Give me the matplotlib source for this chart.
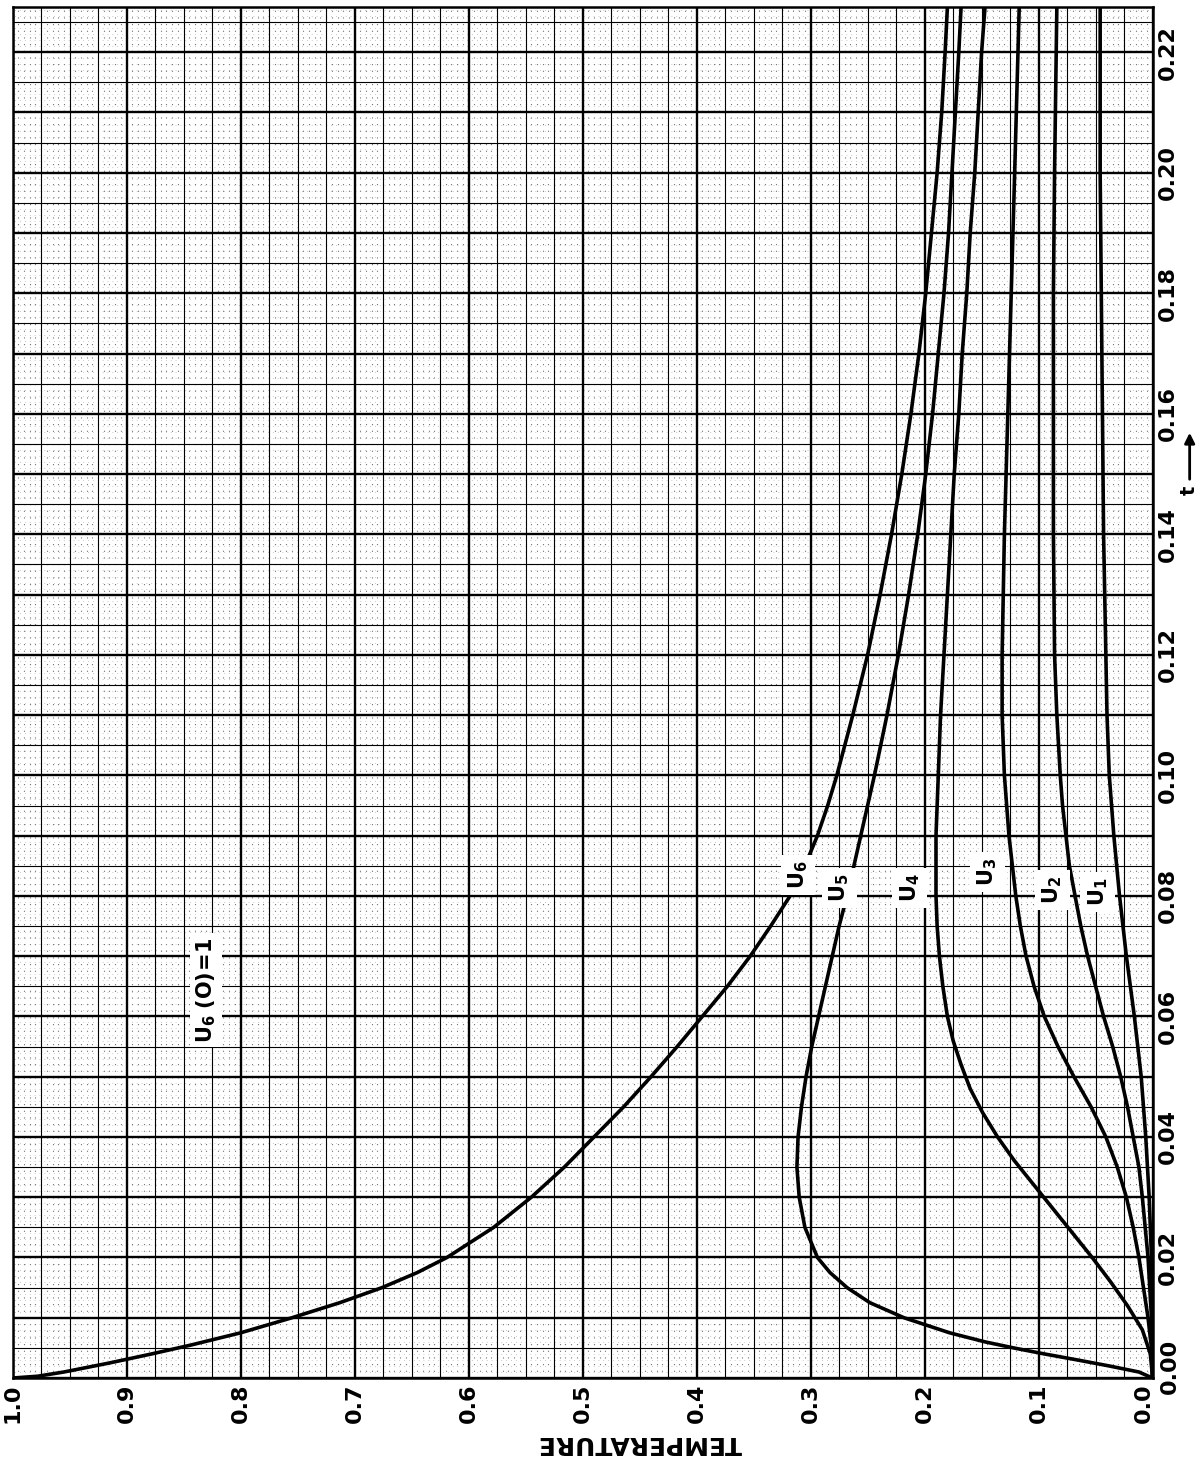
import numpy as np
import matplotlib
matplotlib.use("Agg")
import matplotlib.pyplot as plt
from matplotlib.transforms import ScaledTranslation

# time axis (t) and temperature readings for each node
t_u6 = [0, 0.0003, 0.001, 0.0025, 0.004, 0.0055, 0.0075, 0.010, 0.0125, 0.015, 0.0175, 0.020,
        0.025, 0.030, 0.035, 0.040, 0.045, 0.050, 0.055, 0.060, 0.065, 0.070, 0.075, 0.080,
        0.085, 0.090, 0.095, 0.100, 0.110, 0.120, 0.130, 0.140, 0.150, 0.160, 0.170, 0.180,
        0.190, 0.200, 0.210, 0.220, 0.2275]
u6 = [1.0, 0.978, 0.955, 0.915, 0.878, 0.843, 0.800, 0.755, 0.713, 0.676, 0.645, 0.619,
      0.578, 0.545, 0.516, 0.490, 0.464, 0.440, 0.417, 0.395, 0.373, 0.353, 0.335, 0.318,
      0.305, 0.294, 0.285, 0.277, 0.263, 0.250, 0.239, 0.229, 0.220, 0.212, 0.205, 0.199,
      0.194, 0.189, 0.185, 0.182, 0.180]

t_u5 = [0, 0.001, 0.002, 0.003, 0.004, 0.005, 0.006, 0.0075, 0.010, 0.0125, 0.015, 0.0175,
        0.020, 0.025, 0.030, 0.035, 0.040, 0.045, 0.050, 0.055, 0.060, 0.065, 0.070, 0.075,
        0.080, 0.085, 0.090, 0.095, 0.100, 0.110, 0.120, 0.130, 0.140, 0.150, 0.160, 0.170,
        0.180, 0.190, 0.200, 0.210, 0.220, 0.2275]
u5 = [0, 0.012, 0.038, 0.066, 0.095, 0.122, 0.147, 0.178, 0.218, 0.248, 0.268, 0.283,
      0.294, 0.305, 0.310, 0.312, 0.311, 0.308, 0.304, 0.299, 0.293, 0.287, 0.281, 0.275,
      0.268, 0.262, 0.256, 0.250, 0.244, 0.233, 0.223, 0.214, 0.206, 0.199, 0.193, 0.188,
      0.183, 0.179, 0.176, 0.173, 0.170, 0.168]

t_u4 = [0, 0.004, 0.008, 0.012, 0.016, 0.020, 0.024, 0.028, 0.032, 0.036, 0.040, 0.044,
        0.048, 0.052, 0.056, 0.060, 0.065, 0.070, 0.075, 0.080, 0.085, 0.090, 0.095, 0.100,
        0.110, 0.120, 0.130, 0.140, 0.150, 0.160, 0.170, 0.180, 0.190, 0.200, 0.210, 0.220,
        0.2275]
u4 = [0, 0.002, 0.009, 0.022, 0.037, 0.053, 0.070, 0.087, 0.104, 0.121, 0.136, 0.149,
      0.160, 0.168, 0.175, 0.180, 0.184, 0.187, 0.189, 0.190, 0.190, 0.190, 0.189, 0.188,
      0.186, 0.183, 0.180, 0.177, 0.174, 0.170, 0.167, 0.163, 0.160, 0.156, 0.153, 0.150,
      0.147]

t_u3 = [0, 0.005, 0.010, 0.015, 0.020, 0.025, 0.030, 0.035, 0.040, 0.045, 0.050, 0.055,
        0.060, 0.065, 0.070, 0.075, 0.080, 0.085, 0.090, 0.095, 0.100, 0.110, 0.120, 0.140,
        0.160, 0.180, 0.200, 0.2275]
u3 = [0, 0.001, 0.004, 0.008, 0.012, 0.017, 0.023, 0.031, 0.041, 0.054, 0.069, 0.083,
      0.095, 0.104, 0.111, 0.116, 0.120, 0.123, 0.126, 0.128, 0.130, 0.132, 0.132, 0.130,
      0.127, 0.124, 0.121, 0.117]

t_u2 = [0, 0.010, 0.020, 0.030, 0.035, 0.040, 0.045, 0.050, 0.055, 0.060, 0.065, 0.070,
        0.075, 0.080, 0.085, 0.090, 0.095, 0.100, 0.110, 0.120, 0.140, 0.160, 0.180, 0.200,
        0.2275]
u2 = [0, 0.001, 0.004, 0.009, 0.012, 0.017, 0.022, 0.028, 0.035, 0.043, 0.050, 0.057,
      0.063, 0.068, 0.073, 0.076, 0.079, 0.081, 0.084, 0.086, 0.087, 0.087, 0.087, 0.086,
      0.084]

t_u1 = [0, 0.010, 0.020, 0.030, 0.040, 0.050, 0.060, 0.070, 0.080, 0.090, 0.100, 0.110,
        0.120, 0.140, 0.160, 0.180, 0.200, 0.2275]
u1 = [0, 0.0, 0.001, 0.003, 0.006, 0.010, 0.016, 0.023, 0.029, 0.034, 0.038, 0.040,
      0.041, 0.043, 0.044, 0.045, 0.046, 0.046]

temp_ticks = [1.0, 0.9, 0.8, 0.7, 0.6, 0.5, 0.4, 0.3, 0.2, 0.1, 0.0]
t_ticks = [0.00, 0.02, 0.04, 0.06, 0.08, 0.10, 0.12, 0.14, 0.16, 0.18, 0.20, 0.22]

# curve labels: (text, temperature, t)
labels = [(r'$\mathbf{U_6}$', 0.311, 0.0835),
          (r'$\mathbf{U_5}$', 0.275, 0.0813),
          (r'$\mathbf{U_4}$', 0.213, 0.0813),
          (r'$\mathbf{U_3}$', 0.145, 0.0840),
          (r'$\mathbf{U_2}$', 0.088, 0.0810),
          (r'$\mathbf{U_1}$', 0.048, 0.0807)]

T_TOP = 0.2275

fig = plt.figure(figsize=(12, 14.59), dpi=100)
ax = fig.add_axes([0.0105, 0.0555, 0.950, 0.9397])
ax.set_xlim(1.0, 0.0)
ax.set_ylim(0, T_TOP)

# graph paper: dotted fine grid, thin lines, heavy lines
ax.vlines(np.arange(0, 1.0001, 0.005), 0, T_TOP, colors='0.45', linewidth=0.8,
          linestyles=(0, (1, 5)), zorder=0)
ax.hlines(np.arange(0, T_TOP, 0.001), 0, 1, colors='0.6', linewidth=0.5,
          linestyles=(0, (1, 6)), zorder=0)
for v in np.arange(0, 1.0001, 0.025):
    heavy = abs(v * 10 - round(v * 10)) < 1e-6
    ax.axvline(v, color='black', lw=1.7 if heavy else 0.8, zorder=1)
for h in np.arange(0, T_TOP, 0.005):
    heavy = abs(h * 100 - round(h * 100)) < 1e-6
    ax.axhline(h, color='black', lw=1.7 if heavy else 0.8, zorder=1)

for tt, uu in [(t_u6, u6), (t_u5, u5), (t_u4, u4), (t_u3, u3), (t_u2, u2), (t_u1, u1)]:
    ax.plot(uu, tt, color='black', lw=2.6, solid_joinstyle='round',
            solid_capstyle='round', zorder=3)

for txt, xv, yv in labels:
    ax.text(xv, yv, txt, rotation=90, ha='center', va='center', fontsize=15,
            bbox=dict(facecolor='white', edgecolor='none', pad=4), zorder=4)

ax.text(0.83, 0.0644, r'$\mathbf{U_6\ (O)\!=\!1}$', rotation=90, ha='center', va='center',
        fontsize=15, bbox=dict(facecolor='white', edgecolor='none', pad=3), zorder=4)

ax.set_xticks(temp_ticks)
ax.set_xticklabels(['%.1f' % v for v in temp_ticks], rotation=90, fontsize=16,
                   fontweight='bold')
ax.yaxis.tick_right()
ax.set_yticks(t_ticks)
ax.set_yticklabels(['%.2f' % v for v in t_ticks], rotation=90, va='center', fontsize=16,
                   fontweight='bold')
ax.tick_params(length=0, pad=4)

# the corner labels sit a little apart, as on the sheet
last_x = ax.get_xticklabels()[-1]
last_x.set_transform(last_x.get_transform() + ScaledTranslation(-0.09, 0, fig.dpi_scale_trans))
first_y = ax.get_yticklabels()[0]
first_y.set_transform(first_y.get_transform() + ScaledTranslation(0.02, 0.12, fig.dpi_scale_trans))

ax.set_xlabel('TEMPERATURE', rotation=180, fontsize=18, fontweight='bold')
ax.xaxis.set_label_coords(0.55, -0.039)

# t arrow on the right
ax.annotate('', xy=(1.0325, (1378 - 430) / 1371), xytext=(1.0325, (1378 - 482) / 1371),
            xycoords='axes fraction',
            arrowprops=dict(arrowstyle='-|>', lw=2, color='black', mutation_scale=15))
ax.text(1.0325, (1378 - 490) / 1371, 't', rotation=90, transform=ax.transAxes,
        ha='center', va='center', fontsize=14, fontweight='bold')

for s in ax.spines.values():
    s.set_linewidth(1.8)

fig.savefig('out.png', dpi=100, facecolor='white')
